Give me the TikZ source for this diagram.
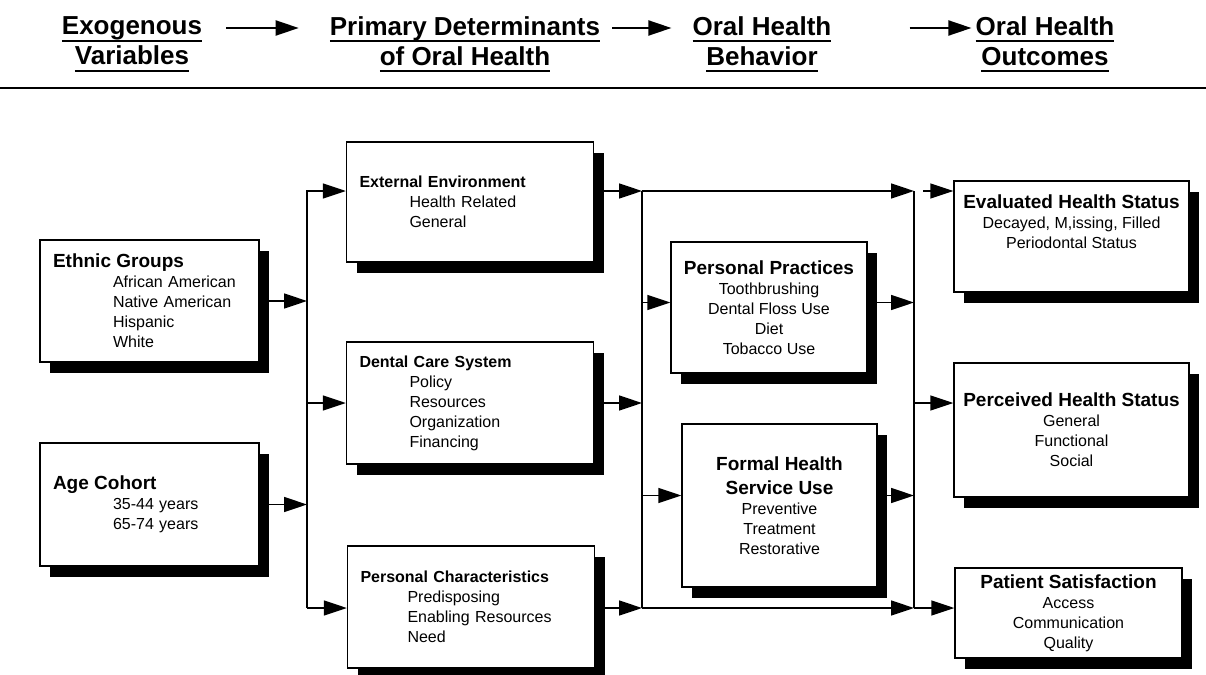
\documentclass[tikz,border=0pt]{standalone}
\usepackage{fontspec}
\setmainfont{Liberation Sans}
\usetikzlibrary{arrows.meta,shadows}

\newcommand{\hul}[1]{\setbox0=\hbox{#1}\rlap{\rule[-7pt]{\wd0}{2pt}}\box0}
\newcommand{\ttl}[1]{{\fontsize{19}{20}\selectfont\bfseries #1}}
\newcommand{\tsm}[1]{{\fontsize{16}{20}\selectfont\bfseries #1}}
\newcommand{\kin}[1][60pt]{\hspace*{#1}}

\begin{document}
\begin{tikzpicture}[x=1pt, y=-1pt, >={Triangle[length=23pt, width=15pt]},
  box/.style={draw, fill=white, line width=1.4pt, inner sep=0pt,
    font=\fontsize{16}{20}\selectfont,
    drop shadow={shadow xshift=10pt, shadow yshift=-11pt, opacity=1, fill=black}},
  lbox/.style={box, align=left, inner xsep=13pt, text width=#1},
  cbox/.style={box, align=center, minimum width=#1},
  head/.style={align=center, inner sep=0pt, font=\fontsize{26}{30}\selectfont\bfseries},
  arr/.style={->, line width=1.5pt},
  harr/.style={->, line width=2pt}]
  \useasboundingbox (0,0) rectangle (1206,674);

  \node[head] (hexo) at (132,44.5) {\hul{Exogenous}\\\hul{Variables}};
  \node[head] (hpri) at (465,44.5) {\hul{Primary Determinants}\\\hul{of Oral Health}};
  \node[head] (hbeh) at (762,44.5) {\hul{Oral Health}\\\hul{Behavior}};
  \node[head] (hout) at (1045,44.5) {\hul{Oral Health}\\\hul{Outcomes}};
  \coordinate (hrow) at (0,28);
  \draw[harr] ([xshift=24pt]hexo.east |- hrow) -- ([xshift=-31pt]hpri.west |- hrow);
  \draw[harr] ([xshift=12pt]hpri.east |- hrow) -- ([xshift=-21pt]hbeh.west |- hrow);
  \draw[harr] ([xshift=78pt]hbeh.east |- hrow) -- ([xshift=-4pt]hout.west |- hrow);
  \draw[line width=2.2pt] (0,88) -- (1206,88);

  \node[lbox=193pt, minimum height=122pt] (eth) at (149.5,301)
    {\ttl{Ethnic Groups}\\ \kin African American\\ \kin Native American\\ \kin Hispanic\\ \kin White};
  \node[lbox=193pt, minimum height=123pt] (age) at (149.5,504.5)
    {\ttl{Age Cohort}\\ \kin 35-44 years\\ \kin 65-74 years};

  \node[lbox=221pt, minimum height=120pt] (ext) at (470,202)
    {\tsm{External Environment}\\ \kin[50pt]Health Related\\ \kin[50pt]General};
  \node[lbox=221pt, minimum height=122pt] (den) at (470,403)
    {\tsm{Dental Care System}\\ \kin[50pt]Policy\\ \kin[50pt]Resources\\ \kin[50pt]Organization\\ \kin[50pt]Financing};
  \node[lbox=221pt, minimum height=122pt] (pch) at (471,607)
    {\tsm{Personal Characteristics}\\ \kin[47pt]Predisposing\\ \kin[47pt]Enabling Resources\\ \kin[47pt]Need};

  \node[cbox=196pt, minimum height=131pt] (ppr) at (769,307.5)
    {\ttl{Personal Practices}\\ Toothbrushing\\ Dental Floss Use\\ Diet\\ Tobacco Use};
  \node[cbox=195pt, minimum height=163pt] (fhs) at (779.5,505.5)
    {\ttl{Formal Health}\\[4pt] \ttl{Service Use}\\ Preventive\\ Treatment\\ Restorative};

  \node[cbox=235pt, minimum height=111pt, text depth=30pt] (evh) at (1071.5,236.5)
    {\ttl{Evaluated Health Status}\\ Decayed, M,issing, Filled\\ Periodontal Status};
  \node[cbox=235pt, minimum height=134pt] (per) at (1071.5,430)
    {\ttl{Perceived Health Status}\\ General\\ Functional\\ Social};
  \node[cbox=227pt, minimum height=90pt] (pat) at (1068.5,613)
    {\ttl{Patient Satisfaction}\\ Access\\ Communication\\ Quality};

  \coordinate (b1t) at (307,191);
  \coordinate (b1m) at (307,403);
  \coordinate (b1b) at (307,608);
  \coordinate (m1t) at (642,191);
  \coordinate (m1b) at (642,608);
  \coordinate (m2t) at (914,191);
  \coordinate (m2c) at (914,403);
  \coordinate (m2b) at (914,608);
  \coordinate (ev) at (923,191);

  \draw[arr] (eth.east) -- (eth.east -| b1t);
  \draw[arr] (age.east) -- (age.east -| b1t);
  \draw[arr] (b1b) -- (b1t) -- (b1t -| ext.west);
  \draw[arr] (b1m) -- (b1m -| den.west);
  \draw[arr] (b1b) -- (b1b -| pch.west);

  \draw[arr] (ext.east |- m1t) -- (m1t);
  \draw[arr] (den.east) -- (den.east -| m1t);
  \draw[arr] (pch.east |- m1b) -- (m1b);
  \draw[line width=1.5pt] (m1t) -- (m1b);
  \draw[arr] (m1t) -- (m2t);
  \draw[arr] (m1b) -- (m2b);
  \draw[arr] ([yshift=5pt]ppr.west -| m1t) -- ([yshift=5pt]ppr.west);
  \draw[arr] ([yshift=10pt]fhs.west -| m1t) -- ([yshift=10pt]fhs.west);
  \draw[arr] ([yshift=5pt]ppr.east) -- ([yshift=5pt]ppr.east -| m2t);
  \draw[arr] ([yshift=10pt]fhs.east) -- ([yshift=10pt]fhs.east -| m2t);

  \draw[line width=1.5pt] (m2t) -- (m2b);
  \draw[arr] (ev) -- (ev -| evh.west);
  \draw[arr] (m2c) -- (m2c -| per.west);
  \draw[arr] (m2b) -- (m2b -| pat.west);
\end{tikzpicture}
\end{document}
